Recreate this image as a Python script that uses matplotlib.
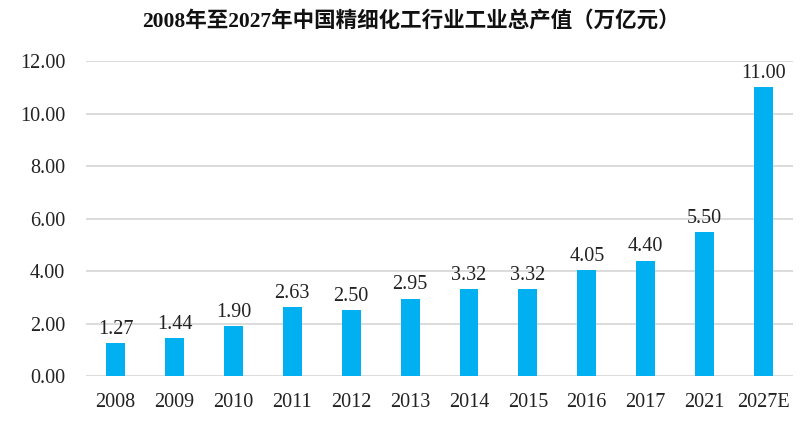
import matplotlib
matplotlib.use('Agg')
import matplotlib.pyplot as plt

# 数据
years = ['2008', '2009', '2010', '2011', '2012', '2013', '2014', '2015',
         '2016', '2017', '2021', '2027E']
values = [1.27, 1.44, 1.90, 2.63, 2.50, 2.95, 3.32, 3.32, 4.05, 4.40, 5.50, 11.00]
yticks = [0, 2, 4, 6, 8, 10, 12]
title = '2008年至2027年中国精细化工行业工业总产值（万亿元）'

plt.rcParams['font.family'] = ['Liberation Serif', 'Noto Sans CJK SC', 'DejaVu Sans']

fig = plt.figure(figsize=(8.05, 4.24), dpi=100)
ax = fig.add_axes([0.107, 0.113, 0.878, 0.743])

x = range(len(years))
bars = ax.bar(x, values, width=0.32, color='#00B0F0', zorder=3)

for xi, v in zip(x, values):
    ax.annotate('%.2f' % v, (xi, v), xytext=(0, 3), textcoords='offset points',
                ha='center', va='bottom', fontsize=14.5, color='#222222')

ax.set_ylim(0, 12)
ax.set_xlim(-0.5, len(years) - 0.5)
ax.set_yticks(yticks)
ax.set_yticklabels(['%.2f' % t for t in yticks])
ax.set_xticks(list(x))
ax.set_xticklabels(years)
ax.tick_params(axis='both', length=0, labelsize=14.5, colors='#222222')
ax.tick_params(axis='y', pad=15)
ax.tick_params(axis='x', pad=12)

ax.grid(axis='y', color='#D9D9D9', linewidth=1.3, zorder=0)
for s in ax.spines.values():
    s.set_visible(False)

fig.text(0.51, 0.95, title, ha='center', va='center', fontsize=15.5,
         fontweight='bold', color='#111111')

fig.savefig('out.png', dpi=100)
